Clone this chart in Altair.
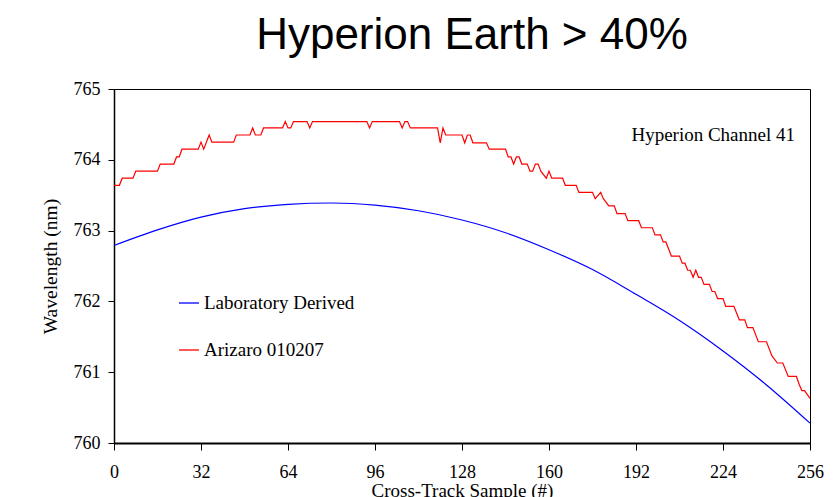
import altair as alt
import pandas as pd

# ---- data ----
series_names = ["Laboratory Derived", "Arizaro 010207"]
series_colors = ["#0000ff", "#ff0000"]

blue_x = [0, 16, 32, 48, 64, 80, 96, 112, 128, 144, 160, 176, 192, 208, 224, 240, 256]
blue_y = [762.79, 763.01, 763.19, 763.31, 763.37, 763.39, 763.36, 763.28, 763.15,
          762.97, 762.73, 762.45, 762.10, 761.73, 761.30, 760.82, 760.28]

red_x = [0, 2, 3, 7, 8, 16, 17, 22, 23, 24, 25, 31, 32, 33, 35, 36, 44, 45, 50, 51,
         52, 54, 55, 62, 63, 64, 65, 66, 71, 72, 73, 93, 94, 95, 105, 106, 107, 108,
         109, 119, 120, 121, 122, 128, 129, 130, 131, 132, 137, 138, 144, 145, 146,
         147, 148, 149, 150, 152, 153, 154, 155, 156, 157, 159, 160, 161, 165, 166,
         170, 171, 176, 177, 179, 180, 182, 184, 185, 188, 189, 193, 194, 198, 199,
         201, 202, 203, 205, 208, 209, 210, 211, 212, 213, 214, 215, 216, 217, 219,
         220, 221, 222, 224, 225, 228, 230, 232, 233, 235, 237, 240, 242, 244, 246,
         248, 251, 252, 253, 254, 256]
red_y = [763.64, 763.64, 763.74, 763.74, 763.84, 763.84, 763.94, 763.94, 764.04, 764.04,
         764.15, 764.15, 764.25, 764.15, 764.35, 764.25, 764.25, 764.35, 764.35, 764.45,
         764.35, 764.35, 764.45, 764.45, 764.54, 764.45, 764.45, 764.54, 764.54, 764.45,
         764.54, 764.54, 764.45, 764.54, 764.54, 764.45, 764.54, 764.54, 764.45, 764.45,
         764.24, 764.45, 764.35, 764.35, 764.24, 764.35, 764.35, 764.24, 764.24, 764.15,
         764.15, 764.04, 764.04, 763.94, 764.04, 764.04, 763.94, 763.94, 763.84, 763.84,
         763.94, 763.94, 763.84, 763.74, 763.84, 763.74, 763.74, 763.64, 763.64, 763.54,
         763.54, 763.45, 763.54, 763.45, 763.35, 763.35, 763.24, 763.24, 763.14, 763.14,
         763.04, 763.04, 762.94, 762.94, 762.84, 762.84, 762.64, 762.64, 762.54, 762.54,
         762.44, 762.44, 762.34, 762.44, 762.34, 762.34, 762.24, 762.24, 762.14, 762.14,
         762.04, 762.04, 761.93, 761.93, 761.74, 761.74, 761.63, 761.63, 761.43, 761.43,
         761.23, 761.13, 761.13, 760.94, 760.94, 760.83, 760.74, 760.74, 760.63]

x_ticks = [0, 32, 64, 96, 128, 160, 192, 224, 256]
y_ticks = [760, 761, 762, 763, 764, 765]
annotation = ["Hyperion Channel 41"]

blue_df = pd.DataFrame({"sample": blue_x, "wl": blue_y, "series": series_names[0]})
red_df = pd.DataFrame({"sample": red_x, "wl": red_y, "series": series_names[1]})
note_df = pd.DataFrame({"label": annotation})

x_enc = alt.X("sample:Q",
              scale=alt.Scale(domain=[0, 256], nice=False, zero=False),
              axis=alt.Axis(values=x_ticks, title="Cross-Track Sample (#)",
                            domainWidth=2, tickSize=7, labelPadding=13, labelFlush=False,
                            titleFontSize=19, titleY=38, titleBaseline="top"))
y_enc = alt.Y("wl:Q",
              scale=alt.Scale(domain=[760, 765], nice=False, zero=False),
              axis=alt.Axis(values=y_ticks, format="d", title="Wavelength (nm)",
                            domainWidth=1.5, tickSize=6, labelPadding=8, labelFlush=False,
                            titleFontSize=19.5, titleX=-64, titleY=177, titleAngle=-90,
                            titleAlign="center", titleBaseline="middle"))
color_enc = alt.Color("series:N",
                      scale=alt.Scale(domain=series_names, range=series_colors),
                      legend=alt.Legend(title=None, orient="none", legendX=64, legendY=203,
                                        symbolType="stroke", symbolSize=400,
                                        symbolStrokeWidth=1.3, labelFontSize=19,
                                        labelFont="Liberation Serif", labelColor="black",
                                        labelOffset=4, rowPadding=26, padding=0))

blue_line = alt.Chart(blue_df).mark_line(strokeWidth=1.2, interpolate="monotone").encode(
    x=x_enc, y=y_enc, color=color_enc)
red_line = alt.Chart(red_df).mark_line(strokeWidth=1.2).encode(
    x=x_enc, y=y_enc, color=color_enc)
note = alt.Chart(note_df).mark_text(font="Liberation Serif", fontSize=19, align="right",
                                    baseline="middle", color="black").encode(
    x=alt.value(681), y=alt.value(46), text="label:N")

chart = alt.layer(blue_line, red_line, note).properties(
    width=696, height=354,
    autosize=alt.AutoSizeParams(type="none"),
    padding={"left": 114, "top": 89, "right": 27, "bottom": 54},
    title=alt.TitleParams("Hyperion Earth > 40%", font="Liberation Sans", fontSize=44,
                          fontWeight="normal", color="black", anchor="middle",
                          dx=10, offset=22),
).configure_view(stroke="black", strokeWidth=1
).configure_axis(grid=False, domainColor="black", tickColor="black",
                 labelFont="Liberation Serif", labelFontSize=18, labelColor="black",
                 titleFont="Liberation Serif", titleFontSize=17, titleFontWeight="normal",
                 titleColor="black")

chart.save("out.html", embed_options={"renderer": "svg", "actions": False})
